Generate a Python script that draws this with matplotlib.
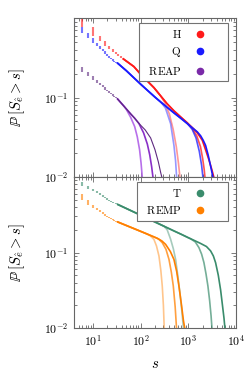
import numpy as np
import matplotlib
matplotlib.use('Agg')
import matplotlib.pyplot as plt
from matplotlib.lines import Line2D
from matplotlib.ticker import LogLocator, FuncFormatter, NullFormatter

plt.rcParams['font.family'] = ['DejaVu Serif']
plt.rcParams['mathtext.fontset'] = 'cm'

# ---------------- data ----------------
# H (red)
h_dash_s = [6, 10, 14, 18, 22, 26, 30, 34, 38]
h_dash_p = [1.0, 0.77, 0.60, 0.51, 0.45, 0.41, 0.375, 0.35, 0.33, 0.31]
h_body_s = [42, 72, 100, 190, 262, 362, 499, 689, 950, 1312, 1541]
h_body_p = [0.31, 0.245, 0.196, 0.133, 0.105, 0.083, 0.068, 0.057, 0.048, 0.040, 0.036]
h_tail1_s = [262, 320, 400, 480, 560, 620, 667, 700]
h_tail1_p = [0.105, 0.086, 0.062, 0.040, 0.024, 0.015, 0.0100, 0.0075]
h_tail2_s = [950, 1200, 1500, 1800, 2000, 2150, 2230, 2300]
h_tail2_p = [0.048, 0.041, 0.033, 0.024, 0.017, 0.0125, 0.0100, 0.0085]
h_tail3_s = [1541, 1960, 2300, 2700, 3100, 3450, 3700]
h_tail3_p = [0.036, 0.029, 0.022, 0.0165, 0.0125, 0.0098, 0.0082]

# Q (blue)
q_dash_s = [4, 6, 8, 10, 12, 14, 16, 18, 20, 22, 24, 26, 28, 30]
q_dash_p = [1.0, 0.78, 0.645, 0.555, 0.49, 0.445, 0.41, 0.38, 0.355, 0.335,
            0.318, 0.303, 0.29, 0.28, 0.274]
q_body_s = [32, 50, 72, 100, 150, 200, 262, 362, 499, 689, 950, 1312, 1541]
q_body_p = [0.274, 0.2175, 0.177, 0.147, 0.118, 0.101, 0.088, 0.075, 0.064,
            0.055, 0.047, 0.040, 0.037]
q_tail1_s = [262, 330, 425, 499, 540, 568, 590]
q_tail1_p = [0.088, 0.074, 0.047, 0.025, 0.016, 0.0100, 0.0078]
q_tail2_s = [950, 1200, 1450, 1700, 1900, 2020, 2100]
q_tail2_p = [0.047, 0.040, 0.031, 0.021, 0.014, 0.0100, 0.0082]
q_tail3_s = [1541, 1811, 2050, 2300, 2600, 2950, 3280, 3450]
q_tail3_p = [0.037, 0.033, 0.029, 0.025, 0.019, 0.0135, 0.0100, 0.0085]

# REAP (purple)
r_dash_s = [4, 6, 8, 10, 12, 14, 16, 18, 20, 22, 24, 26, 28, 30]
r_dash_p = [0.30, 0.245, 0.209, 0.185, 0.167, 0.154, 0.143, 0.134, 0.126,
            0.120, 0.114, 0.1095, 0.105, 0.101, 0.0975]
r_body_s = [32, 45, 62, 80, 100]
r_body_p = [0.0975, 0.0773, 0.0621, 0.0522, 0.0448]
r_tail1_s = [50, 62, 75, 85, 95, 102, 108, 113]
r_tail1_p = [0.071, 0.056, 0.043, 0.032, 0.022, 0.015, 0.0100, 0.0078]
r_tail2_s = [75, 92, 115, 138, 155, 170, 181, 190]
r_tail2_p = [0.055, 0.047, 0.036, 0.026, 0.019, 0.0135, 0.0100, 0.008]
r_tail3_s = [100, 125, 162, 200, 235, 262, 280, 295]
r_tail3_p = [0.0448, 0.039, 0.031, 0.022, 0.0155, 0.0115, 0.0098, 0.008]

# T (green)
t_dash_s = [4, 6, 8, 10, 12, 14, 16, 18, 20, 22, 24, 26, 28, 30]
t_dash_p = [1.0, 0.87, 0.77, 0.70, 0.645, 0.605, 0.572, 0.545, 0.522, 0.503,
            0.487, 0.472, 0.459, 0.447, 0.437]
t_body_s = [32, 50, 100, 200, 308, 500, 700, 1000, 1117, 1300, 1800]
t_body_p = [0.437, 0.383, 0.312, 0.2535, 0.223, 0.193, 0.175, 0.157, 0.152, 0.1455, 0.132]
t_tail1_s = [308, 360, 425, 485, 541, 600, 667, 730, 790, 830]
t_tail1_p = [0.223, 0.200, 0.150, 0.112, 0.081, 0.050, 0.029, 0.017, 0.0100, 0.0074]
t_tail2_s = [1117, 1400, 1670, 1900, 2125, 2350, 2575, 2800, 3000, 3130, 3250]
t_tail2_p = [0.152, 0.138, 0.116, 0.095, 0.0734, 0.052, 0.036, 0.023, 0.0145, 0.0100, 0.0075]
t_tail3_s = [1800, 2400, 2933, 3350, 3730, 4250, 4753, 5200, 5600, 5850, 6100]
t_tail3_p = [0.132, 0.120, 0.105, 0.090, 0.0734, 0.050, 0.032, 0.020, 0.0135, 0.0100, 0.0078]

# REMP (orange)
m_dash_s = [4, 6, 8, 10, 12, 14, 16, 18, 20, 22, 24, 26, 28, 30]
m_dash_p = [1.0, 0.60, 0.49, 0.43, 0.39, 0.36, 0.34, 0.322, 0.308, 0.296,
            0.286, 0.277, 0.269, 0.262, 0.256]
m_body_s = [32, 50, 80, 134, 190, 223]
m_body_p = [0.256, 0.228, 0.202, 0.1766, 0.161, 0.1545]
m_tail1_s = [134, 160, 190, 215, 242, 265, 284, 300, 312, 325]
m_tail1_p = [0.1766, 0.166, 0.149, 0.122, 0.090, 0.058, 0.036, 0.020, 0.0100, 0.0072]
m_tail2_s = [190, 240, 284, 340, 393, 440, 484, 530, 565, 590]
m_tail2_p = [0.161, 0.150, 0.135, 0.110, 0.081, 0.055, 0.036, 0.019, 0.0100, 0.0075]
m_tail3_s = [223, 280, 334, 420, 499, 570, 635, 720, 790, 840, 880]
m_tail3_p = [0.1545, 0.142, 0.128, 0.103, 0.081, 0.056, 0.036, 0.020, 0.0125, 0.0100, 0.0080]

top_labels = [r'$\mathrm{H}$', r'$\mathrm{Q}$', r'$\enspace\mathrm{REAP}$']
bot_labels = [r'$\mathrm{T}$', r'$\enspace\mathrm{REMP}$']
c_h, c_q, c_r, c_t, c_m = '#ff1a1a', '#1a1aff', '#7a2aa8', '#3a8c6c', '#ff8000'

# ---------------- figure ----------------
fig = plt.figure(figsize=(2.49, 3.74), dpi=100)
ax1 = fig.add_axes([74/249, 1-177/374, 162/249, 159/374])
ax2 = fig.add_axes([74/249, 1-328/374, 162/249, 151/374])


def draw_group(ax, colors, dash_s, dash_p, body_s, body_p, tails, alphas, lws):
    ds = np.array(dash_s, float)
    dp = np.array(dash_p, float)
    ax.vlines(ds, dp[1:], dp[:-1], color=colors[-1], alpha=0.6, lw=1.5)
    bs = np.array(body_s, float)
    bp = np.array(body_p, float)
    for (ts, tp), col, a, lw in zip(tails, colors, alphas, lws):
        ts = np.array(ts, float)
        tp = np.array(tp, float)
        keep = bs < ts[0]
        xs = np.concatenate([bs[keep], ts])
        ys = np.concatenate([bp[keep], tp])
        ax.plot(xs, ys, color=col, alpha=a, lw=lw, solid_capstyle='butt')


draw_group(ax1, [c_h] * 3, h_dash_s, h_dash_p, h_body_s, h_body_p,
           [(h_tail1_s, h_tail1_p), (h_tail2_s, h_tail2_p), (h_tail3_s, h_tail3_p)],
           [0.45, 0.75, 1.0], [1.2, 1.2, 1.2])
draw_group(ax1, [c_q] * 3, q_dash_s, q_dash_p, q_body_s, q_body_p,
           [(q_tail1_s, q_tail1_p), (q_tail2_s, q_tail2_p), (q_tail3_s, q_tail3_p)],
           [0.45, 0.75, 1.0], [1.2, 1.2, 1.2])
draw_group(ax1, ['#b060e8', '#8a30c8', '#5e2a80'], r_dash_s, r_dash_p, r_body_s, r_body_p,
           [(r_tail1_s, r_tail1_p), (r_tail2_s, r_tail2_p), (r_tail3_s, r_tail3_p)],
           [0.9, 1.0, 1.0], [1.2, 1.2, 0.8])
draw_group(ax2, [c_t] * 3, t_dash_s, t_dash_p, t_body_s, t_body_p,
           [(t_tail1_s, t_tail1_p), (t_tail2_s, t_tail2_p), (t_tail3_s, t_tail3_p)],
           [0.45, 0.7, 1.0], [1.2, 1.2, 1.2])
draw_group(ax2, [c_m] * 3, m_dash_s, m_dash_p, m_body_s, m_body_p,
           [(m_tail1_s, m_tail1_p), (m_tail2_s, m_tail2_p), (m_tail3_s, m_tail3_p)],
           [0.45, 0.75, 1.0], [1.2, 1.2, 1.2])


def fmt(v, pos):
    e = int(round(np.log10(v)))
    return r'$10^{%d}$' % e


def yfmt(v, pos):
    e = int(round(np.log10(v)))
    if e >= 0:
        return ''
    return r'$10^{%d}$' % e


for ax in (ax1, ax2):
    ax.set_xscale('log')
    ax.set_yscale('log')
    ax.set_xlim(4, 1e4)
    ax.set_ylim(1e-2, 1)
    ax.xaxis.set_major_locator(LogLocator(base=10, numticks=10))
    ax.xaxis.set_minor_locator(LogLocator(base=10, subs=np.arange(2, 10), numticks=20))
    ax.yaxis.set_major_locator(LogLocator(base=10, numticks=10))
    ax.yaxis.set_minor_locator(LogLocator(base=10, subs=np.arange(2, 10), numticks=20))
    ax.xaxis.set_major_formatter(FuncFormatter(fmt))
    ax.yaxis.set_major_formatter(FuncFormatter(yfmt))
    ax.xaxis.set_minor_formatter(NullFormatter())
    ax.yaxis.set_minor_formatter(NullFormatter())
    ax.tick_params(which='both', direction='in', top=True, right=True,
                   color='0.4', width=0.6, labelsize=8.5, pad=4)
    ax.tick_params(which='major', length=3.5)
    ax.tick_params(which='minor', length=2)
    for sp in ax.spines.values():
        sp.set_color('0.4')
        sp.set_linewidth(0.8)
    ax.set_ylabel(r'$\mathbb{P}\,[S_{\hat{e}} > s]$', fontsize=10.5)
    ax.yaxis.set_label_coords(-0.29, 0.5)

ax1.tick_params(labelbottom=False)
ax2.set_xlabel(r'$s$', fontsize=10.5)
ax2.xaxis.set_label_coords(0.5, -0.19)

leg_kw = dict(loc='upper right', borderaxespad=0, fontsize=8, markerfirst=False,
              handlelength=4.3, handletextpad=-0.5, borderpad=0.4, labelspacing=0.5,
              fancybox=False, edgecolor='0.45', framealpha=1)
h_top = [Line2D([], [], ls='none', marker='o', ms=4.5, color=c) for c in (c_h, c_q, c_r)]
leg1 = ax1.legend(h_top, top_labels, bbox_to_anchor=(0.952, 0.967), **leg_kw)
leg1.get_frame().set_linewidth(0.8)
h_bot = [Line2D([], [], ls='none', marker='o', ms=4.5, color=c) for c in (c_t, c_m)]
leg2 = ax2.legend(h_bot, bot_labels, bbox_to_anchor=(0.952, 0.965), **leg_kw)
leg2.get_frame().set_linewidth(0.8)

fig.savefig('out.png', dpi=100)
